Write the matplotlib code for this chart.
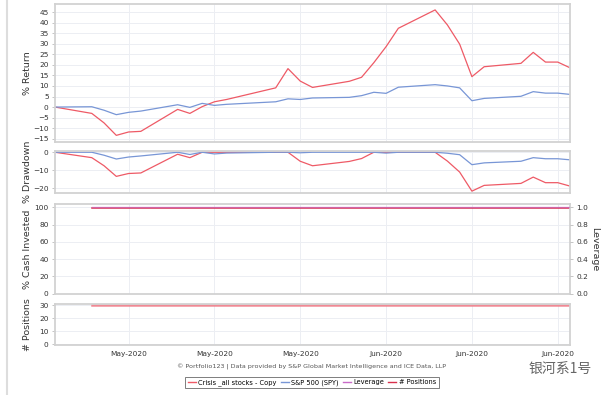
import matplotlib
matplotlib.use("Agg")
import matplotlib.pyplot as plt
import matplotlib.dates as mdates
from matplotlib.lines import Line2D
import pandas as pd

dates = ["2020-05-08", "2020-05-11", "2020-05-12", "2020-05-13", "2020-05-14", "2020-05-15",
         "2020-05-18", "2020-05-19", "2020-05-20", "2020-05-21", "2020-05-22",
         "2020-05-26", "2020-05-27", "2020-05-28", "2020-05-29",
         "2020-06-01", "2020-06-02", "2020-06-03", "2020-06-04", "2020-06-05",
         "2020-06-08", "2020-06-09", "2020-06-10", "2020-06-11", "2020-06-12",
         "2020-06-15", "2020-06-16", "2020-06-17", "2020-06-18", "2020-06-19"]

crisis_return = [0, -3.0, -7.5, -13.4, -11.8, -11.5, -1.1, -3.0, 0.2, 2.5, 3.6,
                 9.1, 18.2, 12.3, 9.3, 12.2, 14.1, 21.0, 28.6, 37.3,
                 46.0, 38.9, 29.8, 14.4, 19.1, 20.7, 25.9, 21.3, 21.3, 18.6]
spy_return = [0, 0.15, -1.5, -3.6, -2.5, -1.9, 1.1, -0.15, 1.75, 0.8, 1.3,
              2.5, 3.9, 3.6, 4.3, 4.6, 5.4, 7.0, 6.5, 9.4,
              10.6, 10.0, 9.1, 3.0, 4.1, 5.1, 7.3, 6.6, 6.6, 6.0]
crisis_drawdown = [0, -3.0, -7.5, -13.4, -11.8, -11.5, -1.1, -3.0, 0, 0, 0,
                   0, 0, -5.0, -7.5, -5.1, -3.5, 0, 0, 0,
                   0, -4.9, -11.0, -21.6, -18.4, -17.3, -13.8, -16.9, -16.9, -18.8]
spy_drawdown = [0, 0, -1.65, -3.75, -2.65, -2.05, 0, -1.24, 0, -0.93, -0.44,
                0, 0, -0.29, 0, 0, 0, 0, -0.47, 0,
                0, -0.54, -1.36, -6.9, -5.9, -5.0, -3.0, -3.6, -3.6, -4.2]

alloc_dates = dates[1:]
cash_invested = [99, 99, 99, 99, 99, 99, 99, 99, 99, 99, 99, 99, 99, 99, 99,
                 99, 99, 99, 99, 99, 99, 99, 99, 99, 99, 99, 99, 99, 99]
leverage = [1.0, 1.0, 1.0, 1.0, 1.0, 1.0, 1.0, 1.0, 1.0, 1.0, 1.0, 1.0, 1.0, 1.0, 1.0,
            1.0, 1.0, 1.0, 1.0, 1.0, 1.0, 1.0, 1.0, 1.0, 1.0, 1.0, 1.0, 1.0, 1.0]
positions = [30, 30, 30, 30, 30, 30, 30, 30, 30, 30, 30, 30, 30, 30, 30,
             30, 30, 30, 30, 30, 30, 30, 30, 30, 30, 30, 30, 30, 30]

legend_labels = ["Crisis _all stocks - Copy", "S&P 500 (SPY)", "Leverage", "# Positions"]

d = pd.to_datetime(dates)
ad = pd.to_datetime(alloc_dates)

RED = "#ee5a66"
BLUE = "#7896d6"
PURPLE = "#c86ac8"
CASHRED = "#d8304c"
POSRED = "#f07884"
SPINE = "#d2d2d2"
GRID = "#eceef3"
TXT = "#333333"

W, H = 608, 395
fig = plt.figure(figsize=(W / 100, H / 100), dpi=100)
plt.rcParams['font.family'] = ['DejaVu Sans']

L, R = 55, 570
def mk(top, bot):
    return fig.add_axes([L / W, 1 - bot / H, (R - L) / W, (bot - top) / H])

ax1 = mk(4, 141.7)
ax2 = mk(151, 193.3)
ax3 = mk(204, 294)
ax4 = mk(304, 345)

xmin, xmax = pd.Timestamp("2020-05-08"), pd.Timestamp("2020-06-19")

for ax in (ax1, ax2, ax3, ax4):
    ax.set_xlim(xmin, xmax)
    for s in ax.spines.values():
        s.set_color(SPINE)
        s.set_linewidth(1.3)
    ax.grid(True, color=GRID, lw=0.7)
    ax.set_axisbelow(True)
    ax.xaxis.set_major_locator(mdates.WeekdayLocator(byweekday=mdates.TH))
    ax.xaxis.set_major_formatter(mdates.DateFormatter("%b-%Y"))
    ax.tick_params(axis='y', labelsize=5.3, colors=TXT, length=2.5, width=0.6, pad=2)
    ax.tick_params(axis='y', color="#bbbbbb")
    ax.tick_params(axis='x', length=0, labelsize=5.3, colors=TXT)
    if ax is not ax4:
        ax.tick_params(axis='x', labelbottom=False)

ax1.plot(d, crisis_return, color=RED, lw=0.9)
ax1.plot(d, spy_return, color=BLUE, lw=0.9)
ax1.set_ylim(-16.4, 48.8)
ax1.set_yticks(range(-15, 50, 5))
ax1.set_ylabel("% Return", fontsize=6.8, color=TXT)

ax2.plot(d, crisis_drawdown, color=RED, lw=0.9)
ax2.plot(d, spy_drawdown, color=BLUE, lw=0.9)
ax2.set_ylim(-22.8, 0.7)
ax2.set_yticks([0, -10, -20])
ax2.set_ylabel("% Drawdown", fontsize=6.8, color=TXT)

ax3.plot(ad, cash_invested, color=CASHRED, lw=1.1)
ax3.set_ylim(-0.3, 103.8)
ax3.set_yticks(range(0, 101, 20))
ax3.set_ylabel("% Cash Invested", fontsize=6.8, color=TXT)
ax3r = ax3.twinx()
ax3r.set_xlim(xmin, xmax)
ax3r.plot(ad, leverage, color=PURPLE, lw=1.0, alpha=0.6)
ax3r.set_ylim(-0.003, 1.038)
ax3r.set_yticks([0.0, 0.2, 0.4, 0.6, 0.8, 1.0])
ax3r.tick_params(axis='y', labelsize=5.3, colors=TXT, length=2.5, width=0.6, pad=2)
ax3r.tick_params(axis='y', color="#bbbbbb")
for s in ax3r.spines.values():
    s.set_visible(False)
ax3r.set_ylabel("Leverage", fontsize=6.8, color=TXT, rotation=270, labelpad=8)

ax4.plot(ad, positions, color=POSRED, lw=1.8, alpha=0.85)
ax4.set_ylim(-0.6, 31)
ax4.set_yticks([0, 10, 20, 30])
ax4.set_ylabel("# Positions", fontsize=6.8, color=TXT)
ax4.tick_params(axis='x', pad=4)

for ax in (ax1, ax2, ax3, ax4):
    ax.yaxis.set_label_coords(-0.045, 0.5)

# left border of the chart frame
fig.add_artist(Line2D([7 / W, 7 / W], [0, 1], color="#dddddd", lw=1.5))

fig.text(312 / W, 1 - 367 / H,
         "© Portfolio123 | Data provided by S&P Global Market Intelligence and ICE Data, LLP",
         ha="center", va="center", fontsize=4.6, color="#555555")

handles = [Line2D([], [], color=RED, lw=1),
           Line2D([], [], color=BLUE, lw=1),
           Line2D([], [], color=PURPLE, lw=1),
           Line2D([], [], color=CASHRED, lw=1)]
leg = fig.legend(handles, legend_labels, loc="center", bbox_to_anchor=(312 / W, 1 - 382.5 / H),
                 ncol=4, fontsize=4.8, frameon=True, handlelength=1.2, handletextpad=0.4,
                 columnspacing=0.6, borderpad=0.35, fancybox=False)
leg.get_frame().set_edgecolor("#444444")
leg.get_frame().set_linewidth(0.6)

fig.text(560 / W, 1 - 369 / H, "银河系1号", ha="center", va="center", fontsize=10,
         color="#666666", family=["Noto Sans CJK SC", "DejaVu Sans"])

fig.savefig("out.png", dpi=100)
